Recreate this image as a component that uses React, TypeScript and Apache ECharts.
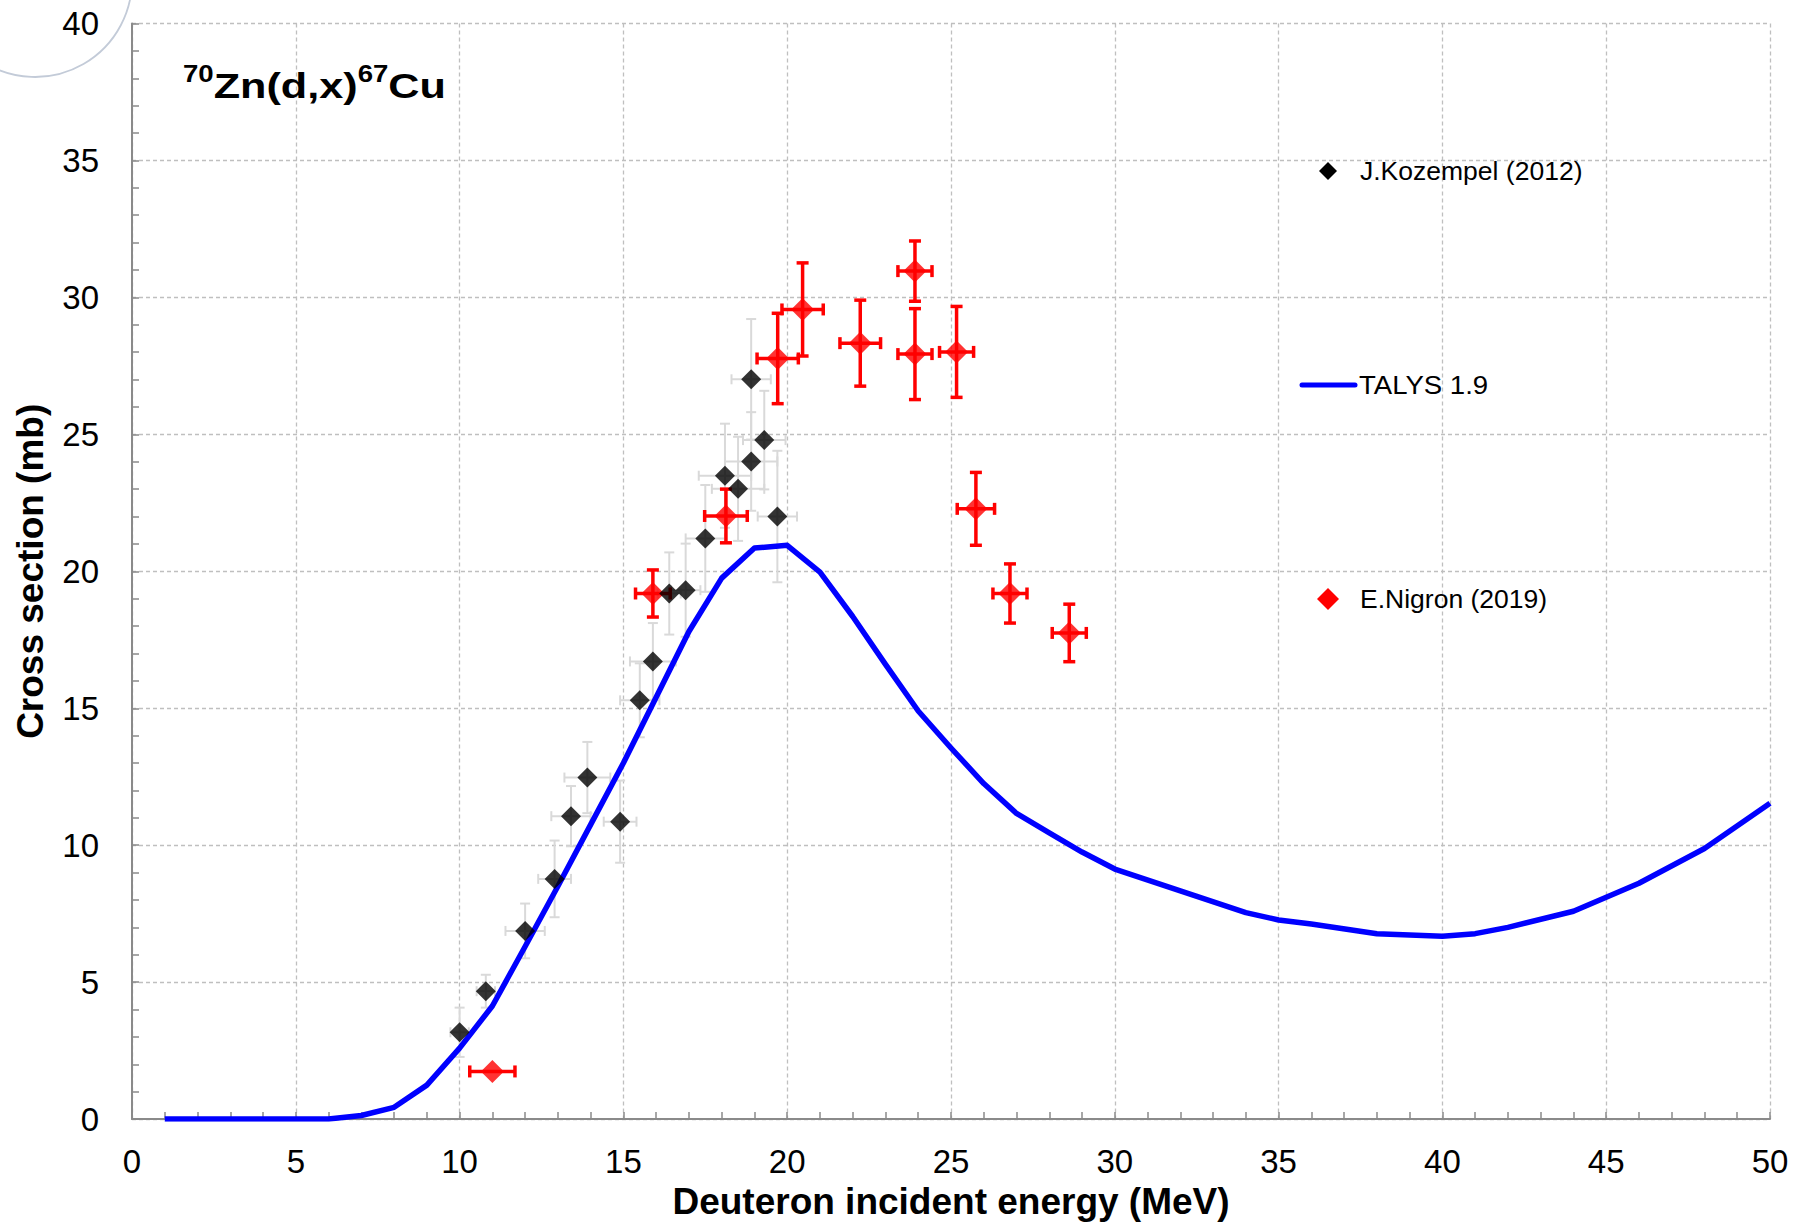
import React, { useEffect, useRef } from "react";
import * as echarts from "echarts";

// TALYS 1.9 calculation
const talysEnergy = [1, 2, 3, 4, 5, 6, 7, 8, 9, 10, 11, 12, 13, 14, 15, 16, 17, 18, 19, 20, 21, 22, 23, 24, 25, 26, 27, 28, 29, 30, 32, 34, 35, 36, 38, 40, 41, 42, 44, 46, 48, 50];
const talysXs = [0, 0, 0, 0, 0, 0, 0.13, 0.43, 1.24, 2.59, 4.13, 6.3, 8.5, 10.75, 13.0, 15.4, 17.8, 19.75, 20.85, 20.95, 19.97, 18.35, 16.6, 14.9, 13.55, 12.25, 11.16, 10.45, 9.75, 9.13, 8.33, 7.54, 7.27, 7.12, 6.77, 6.68, 6.77, 7.0, 7.59, 8.61, 9.88, 11.53];

// J.Kozempel (2012)
const kozEnergy = [10.0, 10.8, 12.0, 12.9, 13.4, 13.9, 14.9, 15.5, 15.9, 16.4, 16.9, 17.5, 18.1, 18.5, 18.9, 18.9, 19.3, 19.7];
const kozXs = [3.17, 4.67, 6.87, 8.77, 11.06, 12.47, 10.86, 15.29, 16.71, 19.19, 19.31, 21.2, 23.49, 23.01, 24.01, 27.01, 24.79, 22.0];
const kozEnergyErr = [0.28, 0.28, 0.6, 0.5, 0.6, 0.7, 0.5, 0.6, 0.7, 0.35, 0.45, 0.6, 0.8, 0.8, 0.8, 0.6, 0.65, 0.6];
const kozXsErr = [0.9, 0.6, 1.0, 1.4, 1.1, 1.3, 1.5, 1.35, 1.4, 1.5, 1.7, 1.95, 1.9, 1.9, 1.8, 2.2, 1.8, 2.4];

// E.Nigron (2019)
const nigEnergy = [11.0, 15.9, 18.13, 19.71, 20.47, 22.23, 23.9, 23.9, 25.17, 25.76, 26.8, 28.61];
const nigXs = [1.74, 19.19, 22.02, 27.77, 29.56, 28.33, 30.96, 27.93, 28.01, 22.28, 19.19, 17.75];
const nigEnergyErr = [0.69, 0.53, 0.65, 0.63, 0.63, 0.62, 0.52, 0.52, 0.52, 0.57, 0.52, 0.52];
const nigXsErr = [0, 0.86, 0.98, 1.65, 1.7, 1.57, 1.1, 1.66, 1.66, 1.33, 1.08, 1.05];

const legendNames = ["J.Kozempel (2012)", "TALYS 1.9", "E.Nigron (2019)"];
const xAxisTitle = "Deuteron incident energy (MeV)";
const yAxisTitle = "Cross section (mb)";

const FONT = "'Liberation Sans', Arial, sans-serif";

function errRender(color: string, width: number, cap: number) {
  return (params: any, api: any) => {
    const x = api.value(0);
    const y = api.value(1);
    const dx = api.value(2);
    const dy = api.value(3);
    const c = api.coord([x, y]);
    const cx = c[0];
    const cy = c[1];
    const st = { stroke: color, lineWidth: width };
    const children: any[] = [];
    if (dx > 0) {
      const lx = api.coord([x - dx, y])[0];
      const rx = api.coord([x + dx, y])[0];
      children.push({ type: "line", shape: { x1: lx, y1: cy, x2: rx, y2: cy }, style: st });
      children.push({ type: "line", shape: { x1: lx, y1: cy - cap, x2: lx, y2: cy + cap }, style: st });
      children.push({ type: "line", shape: { x1: rx, y1: cy - cap, x2: rx, y2: cy + cap }, style: st });
    }
    if (dy > 0) {
      const ty = api.coord([x, y + dy])[1];
      const by = api.coord([x, y - dy])[1];
      children.push({ type: "line", shape: { x1: cx, y1: ty, x2: cx, y2: by }, style: st });
      children.push({ type: "line", shape: { x1: cx - cap, y1: ty, x2: cx + cap, y2: ty }, style: st });
      children.push({ type: "line", shape: { x1: cx - cap, y1: by, x2: cx + cap, y2: by }, style: st });
    }
    return { type: "group", children };
  };
}

function diamond(cx: number, cy: number, h: number) {
  return [
    [cx, cy - h],
    [cx + h, cy],
    [cx, cy + h],
    [cx - h, cy],
  ];
}

export default function App() {
  const ref = useRef<HTMLDivElement>(null);

  useEffect(() => {
    if (!ref.current) return;
    const chart = echarts.init(ref.current, undefined, { renderer: "svg" });

    const gridLine = { show: true, lineStyle: { color: "#bfbfbf", type: [4, 3], width: 1.3 } };
    const axisLine = { show: true, onZero: false, lineStyle: { color: "#8a8a8a", width: 2 } };
    const axisTick = { show: true, inside: true, length: 7, lineStyle: { color: "#8a8a8a", width: 1.5 } };
    const minorTick = { show: true, splitNumber: 5, length: 7, lineStyle: { color: "#8a8a8a", width: 1.5 } };

    const option: any = {
      animation: false,
      backgroundColor: "#ffffff",
      grid: { left: 132, right: 40, top: 23.5, bottom: 97.5, containLabel: false },
      xAxis: {
        type: "value",
        min: 0,
        max: 50,
        interval: 5,
        axisLine,
        axisTick,
        minorTick,
        splitLine: gridLine,
        axisLabel: { color: "#000", fontSize: 33, fontFamily: FONT, margin: 26 },
        name: xAxisTitle,
        nameLocation: "middle",
        nameGap: 56,
        nameTextStyle: { color: "#000", fontSize: 37, fontWeight: "bold", fontFamily: FONT },
      },
      yAxis: {
        type: "value",
        min: 0,
        max: 40,
        interval: 5,
        axisLine,
        axisTick,
        minorTick,
        splitLine: gridLine,
        axisLabel: { color: "#000", fontSize: 33, fontFamily: FONT, margin: 33 },
        name: yAxisTitle,
        nameLocation: "middle",
        nameGap: 83,
        nameTextStyle: { color: "#000", fontSize: 37, fontWeight: "bold", fontFamily: FONT },
      },
      series: [
        {
          name: legendNames[0] + " err",
          type: "custom",
          renderItem: errRender("#d9d9d9", 2, 5),
          data: kozEnergy.map((e, i) => [e, kozXs[i], kozEnergyErr[i], kozXsErr[i]]),
          encode: { x: 0, y: 1 },
          z: 2,
          silent: true,
        },
        {
          name: legendNames[1],
          type: "line",
          data: talysEnergy.map((e, i) => [e, talysXs[i]]),
          showSymbol: false,
          symbol: "none",
          lineStyle: { color: "#0000ff", width: 5.5, join: "round" },
          z: 3,
          silent: true,
        },
        {
          name: legendNames[2] + " err",
          type: "custom",
          renderItem: errRender("#ff0000", 3.5, 6),
          data: nigEnergy.map((e, i) => [e, nigXs[i], nigEnergyErr[i], nigXsErr[i]]),
          encode: { x: 0, y: 1 },
          z: 4,
          silent: true,
        },
        {
          name: legendNames[2],
          type: "scatter",
          symbol: "diamond",
          symbolSize: 23,
          itemStyle: { color: "#ff0000" },
          data: nigEnergy.map((e, i) => [e, nigXs[i]]),
          z: 5,
          silent: true,
        },
        {
          name: legendNames[0],
          type: "scatter",
          symbol: "diamond",
          symbolSize: 20,
          itemStyle: { color: "#000000" },
          data: kozEnergy.map((e, i) => [e, kozXs[i]]),
          z: 6,
          silent: true,
        },
      ],
      graphic: [
        {
          type: "circle",
          shape: { cx: 35, cy: -20, r: 97 },
          style: { fill: "none", stroke: "#c3cbd8", lineWidth: 1.8 },
          silent: true,
          z: 1,
        },
        {
          type: "text",
          x: 183,
          y: 62,
          scaleX: 1.2,
          z: 10,
          style: {
            text: "{sup|70}{main|Zn(d,x)}{sup|67}{main|Cu}",
            fontFamily: FONT,
            rich: {
              sup: { fontSize: 23, fontWeight: "bold", fontFamily: FONT, fill: "#000", verticalAlign: "top", lineHeight: 41 },
              main: { fontSize: 36, fontWeight: "bold", fontFamily: FONT, fill: "#000", verticalAlign: "bottom", lineHeight: 41 },
            },
          },
        },
        {
          type: "polygon",
          shape: { points: diamond(1328, 171, 9) },
          style: { fill: "#000" },
          z: 10,
        },
        {
          type: "text",
          x: 1360,
          y: 171,
          z: 10,
          scaleX: 1.02,
          style: { text: legendNames[0], fontSize: 26, fontFamily: FONT, fill: "#000", verticalAlign: "middle" },
        },
        {
          type: "line",
          shape: { x1: 1302, y1: 385, x2: 1355, y2: 385 },
          style: { stroke: "#0000ff", lineWidth: 5, lineCap: "round" },
          z: 10,
        },
        {
          type: "text",
          x: 1359,
          y: 385,
          z: 10,
          scaleX: 1.06,
          style: { text: legendNames[1], fontSize: 26, fontFamily: FONT, fill: "#000", verticalAlign: "middle" },
        },
        {
          type: "polygon",
          shape: { points: diamond(1328, 599, 11) },
          style: { fill: "#ff0000" },
          z: 10,
        },
        {
          type: "text",
          x: 1360,
          y: 599,
          z: 10,
          scaleX: 1.02,
          style: { text: legendNames[2], fontSize: 26, fontFamily: FONT, fill: "#000", verticalAlign: "middle" },
        },
      ],
    };

    chart.setOption(option);
    return () => {
      chart.dispose();
    };
  }, []);

  return (
    <div
      ref={ref}
      style={{ position: "absolute", left: 0, top: 0, width: 1810, height: 1225, background: "#fff" }}
    />
  );
}
